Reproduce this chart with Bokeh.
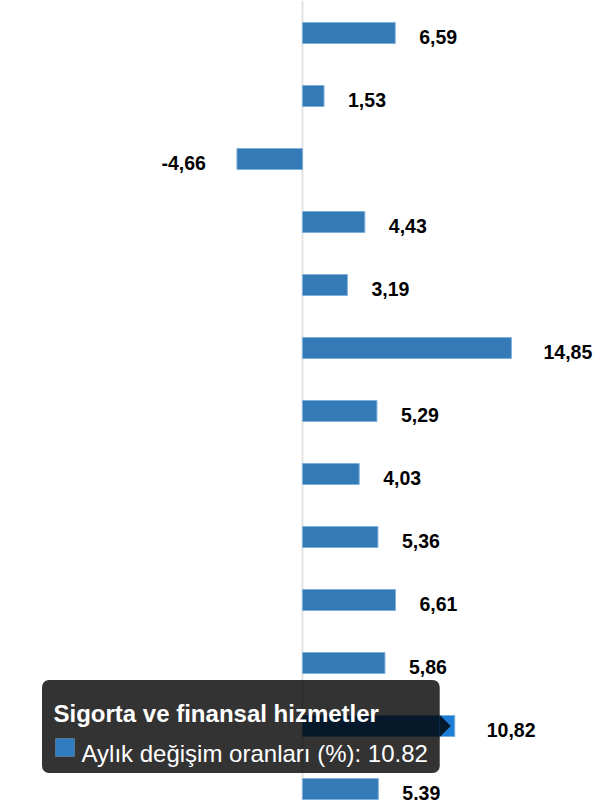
from bokeh.plotting import figure
from bokeh.models import Range1d, Span, BoxAnnotation, Label, ColumnDataSource
from bokeh.core.properties import value
from bokeh.embed import file_html
from bokeh.resources import INLINE

# ---- data ----
values = [6.59, 1.53, -4.66, 4.43, 3.19, 14.85, 5.29, 4.03, 5.36, 6.61, 5.86, 10.82, 5.39]
row_index = list(range(len(values)))
value_labels = [f"{v:.2f}".replace(".", ",") for v in values]
tooltip_row = 11
tooltip_category = "Sigorta ve finansal hizmetler"
series_name = "Aylık değişim oranları (%)"

# ---- layout constants (pixels) ----
W, H = 600, 800
ZERO_PX = 302.0
PPU = 14.07          # pixels per unit on x
ROW_PX = 63.0
FIRST_ROW_PX = 32.5
BAR_PX = 21.0

x_start = -ZERO_PX / PPU
x_end = (W - ZERO_PX) / PPU
y_top = -FIRST_ROW_PX / ROW_PX
y_bottom = (H - FIRST_ROW_PX) / ROW_PX


def px_x(px):
    return x_start + px / PPU


def px_y(py):
    return y_top + py / ROW_PX


def label_offset(v):
    if v < 0:
        return -31
    return 24 if v < 10 else 32


p = figure(width=W, height=H, output_backend="svg", toolbar_location=None,
           x_range=Range1d(x_start, x_end), y_range=Range1d(y_bottom, y_top),
           min_border=0, outline_line_color=None)
p.axis.visible = False
p.grid.visible = False
p.background_fill_color = "white"
p.border_fill_color = "white"

p.add_layout(Span(location=0, dimension="height", line_color="#e3e3e3",
                  line_width=2, level="underlay"))

colors = ["#337ab7"] * len(values)
colors[tooltip_row] = "#1c7ed6"
src = ColumnDataSource(dict(y=row_index, right=values, color=colors,
                            label=value_labels,
                            align=["left" if v >= 0 else "right" for v in values],
                            xoff=[label_offset(v) for v in values]))
p.hbar(y="y", left=0, right="right", height=BAR_PX / ROW_PX, source=src,
       fill_color="color", line_color="#7fb0dc", line_width=1)

p.text(x="right", y="y", text="label", source=src, x_offset="xoff", y_offset=4,
       text_align="align", text_baseline="middle",
       text_font=value("Liberation Sans"), text_font_style="bold",
       text_font_size="19.5px", text_color="#000000")

# ---- tooltip (static rendition) ----
bar_end_px = ZERO_PX + values[tooltip_row] * PPU
row_px = FIRST_ROW_PX + tooltip_row * ROW_PX
tip_right_px = bar_end_px - 15
tip_left_px = 41.5

p.add_layout(BoxAnnotation(left=px_x(tip_left_px), right=px_x(tip_right_px),
                           top=px_y(row_px - 46), bottom=px_y(row_px + 47),
                           fill_color="black", fill_alpha=0.8, line_color=None,
                           border_radius=7))
p.patch(x=[px_x(tip_right_px), px_x(tip_right_px + 11), px_x(tip_right_px)],
        y=[px_y(row_px - 11), px_y(row_px), px_y(row_px + 11)],
        fill_color="black", fill_alpha=0.8, line_color=None, level="annotation")

p.add_layout(Label(x=px_x(53), y=px_y(row_px - 12.5), text=tooltip_category,
                   text_font="Liberation Sans", text_font_style="bold",
                   text_font_size="24px", text_color="white",
                   text_baseline="alphabetic"))
p.add_layout(BoxAnnotation(left=px_x(55), right=px_x(74),
                           top=px_y(row_px + 12.5), bottom=px_y(row_px + 30.5),
                           fill_color="#2f7cc0", fill_alpha=1,
                           line_color="#9cc3e6", line_width=1))
p.add_layout(Label(x=px_x(81), y=px_y(row_px + 27.5),
                   text=f"{series_name}: {values[tooltip_row]:.2f}",
                   text_font="Liberation Sans", text_font_size="24px",
                   text_color="white", text_baseline="alphabetic"))

open("out.html", "w").write(file_html(p, INLINE))
